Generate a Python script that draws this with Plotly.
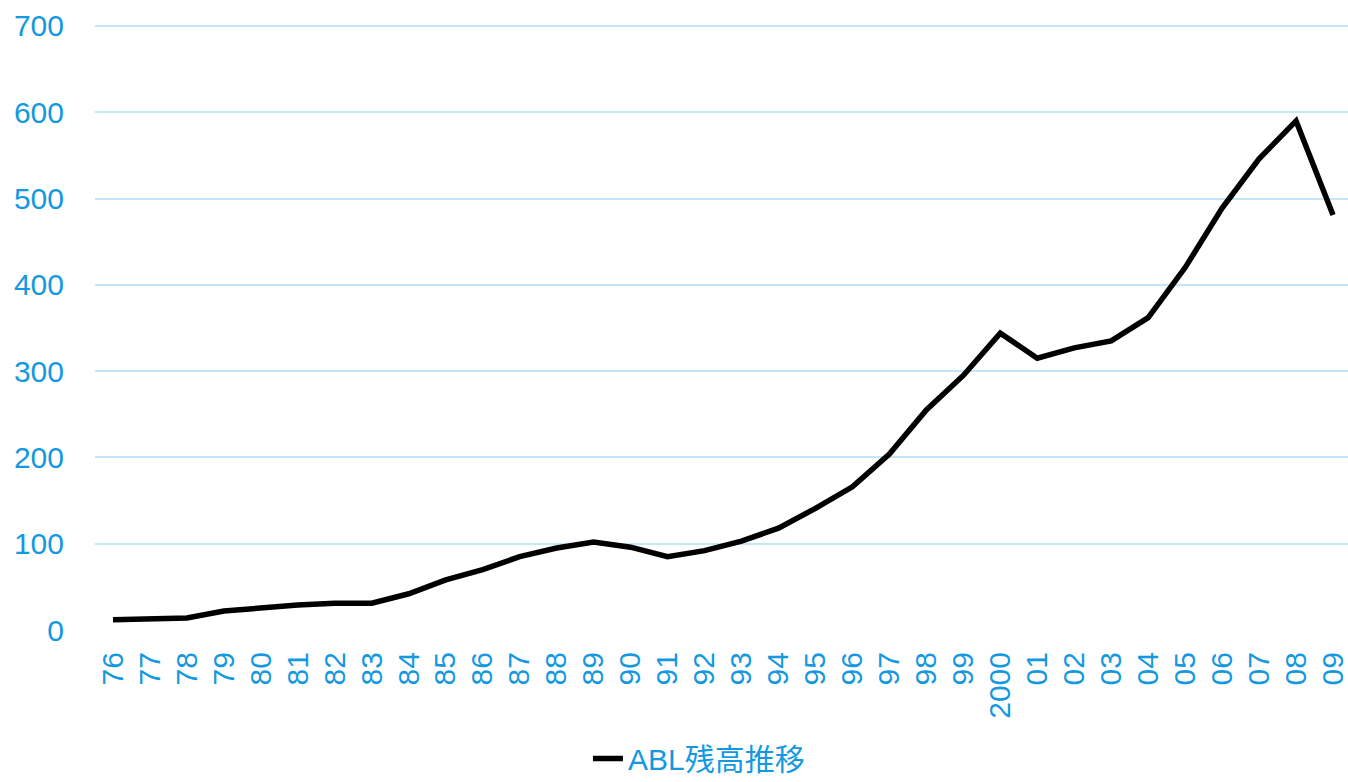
import plotly.graph_objects as go

years = ["76", "77", "78", "79", "80", "81", "82", "83", "84", "85", "86", "87", "88", "89",
         "90", "91", "92", "93", "94", "95", "96", "97", "98", "99", "2000", "01", "02", "03",
         "04", "05", "06", "07", "08", "09"]
abl_balance = [12, 13, 14, 22, 26, 29, 31, 31, 42, 58, 70, 85, 95, 102, 96, 85, 92, 103, 118,
               141, 166, 204, 255, 295, 344, 315, 327, 335, 362, 420, 489, 546, 590, 481]
y_ticks = [0, 100, 200, 300, 400, 500, 600, 700]

BLUE = "#1499e0"
GRID = "#c5e6f8"
FONT = "Liberation Sans, Noto Sans CJK JP, sans-serif"

x_idx = list(range(len(years)))

fig = go.Figure()
fig.add_trace(go.Scatter(
    x=x_idx, y=abl_balance, mode="lines", name="ABL残高推移",
    line=dict(color="black", width=5.5),
))

fig.update_layout(
    template="none",
    width=1348, height=782,
    margin=dict(l=95, r=0, t=22, b=152, autoexpand=False),
    paper_bgcolor="white", plot_bgcolor="white",
    font=dict(family=FONT, color=BLUE, size=30),
    showlegend=True,
    legend=dict(orientation="h", x=0.482, xanchor="center", xref="paper",
                yref="container", y=0.03, yanchor="middle",
                font=dict(size=30, color=BLUE), bgcolor="rgba(0,0,0,0)"),
    xaxis=dict(
        range=[-0.487, 33.405], tickmode="array", tickvals=x_idx, ticktext=years,
        tickangle=-90, showgrid=False, zeroline=False, showline=False,
        ticks="outside", ticklen=9, tickcolor="rgba(0,0,0,0)",
        tickfont=dict(size=30, color=BLUE), fixedrange=True,
        automargin=False, ticklabeloverflow="allow",
    ),
    yaxis=dict(
        range=[0, 704.6], tickmode="array", tickvals=y_ticks,
        showgrid=True, gridcolor=GRID, gridwidth=2, zeroline=False, showline=False,
        ticks="outside", ticklen=24, tickcolor="rgba(0,0,0,0)",
        tickfont=dict(size=30, color=BLUE), fixedrange=True,
        automargin=False,
    ),
)

fig.write_html("out.html")
